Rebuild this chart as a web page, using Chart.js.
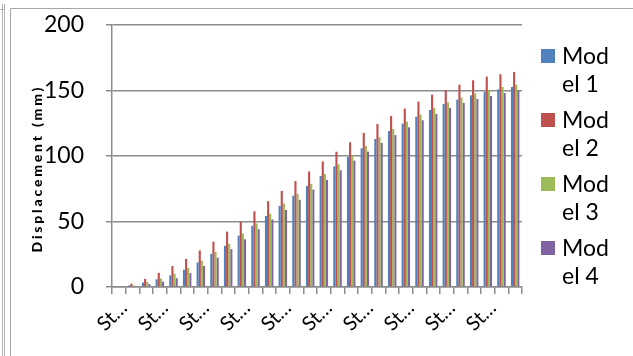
<!DOCTYPE html>
<html>
<head>
<meta charset="utf-8">
<script src="https://cdn.jsdelivr.net/npm/chart.js@4"></script>
<style>
  html, body { margin: 0; padding: 0; background: #fff; }
  #wrap { width: 633px; height: 356px; position: relative; }
</style>
</head>
<body>
<div id="wrap"><canvas id="c" width="633" height="356"></canvas></div>
<script>
// Load steps along the x axis
const categories = [
  'Step 1', 'Step 2', 'Step 3', 'Step 4', 'Step 5', 'Step 6', 'Step 7', 'Step 8', 'Step 9', 'Step 10',
  'Step 11', 'Step 12', 'Step 13', 'Step 14', 'Step 15', 'Step 16', 'Step 17', 'Step 18', 'Step 19', 'Step 20',
  'Step 21', 'Step 22', 'Step 23', 'Step 24', 'Step 25', 'Step 26', 'Step 27', 'Step 28', 'Step 29', 'Step 30'
];

// Displacement (mm) for each model
const model1 = [0, 1.3, 3.4, 5.9, 8.8, 13.2, 18.8, 25.3, 31.5, 39.2, 46.7, 54.2, 61.9, 69.7, 77.2,
                84.7, 92.1, 99.3, 105.9, 113.0, 119.1, 124.7, 130.0, 135.1, 139.7, 143.0, 146.3, 148.9, 150.9, 152.7];
const model2 = [0, 2.6, 6.2, 10.8, 16.0, 21.4, 27.9, 34.6, 42.3, 49.8, 57.8, 65.5, 73.3, 80.8, 88.2,
                95.9, 103.3, 110.5, 117.6, 124.5, 130.6, 136.2, 141.5, 146.8, 150.4, 154.5, 157.8, 160.6, 162.4, 164.2];
const model3 = [0, 1.2, 3.9, 6.5, 10.2, 14.5, 20.1, 26.8, 33.0, 40.8, 48.5, 56.0, 63.7, 71.2, 78.8,
                86.3, 93.7, 100.5, 107.7, 114.3, 120.6, 126.2, 131.6, 136.7, 141.0, 144.6, 147.9, 150.2, 152.7, 154.5];
const model4 = [0, 0.6, 2.3, 4.1, 6.7, 10.6, 16.0, 22.4, 28.9, 36.4, 44.1, 51.6, 58.8, 66.6, 74.3,
                81.7, 89.1, 96.5, 103.3, 110.0, 116.0, 121.9, 127.3, 132.1, 136.7, 140.5, 143.5, 145.8, 148.1, 150.2];

const seriesNames = ['Model 1', 'Model 2', 'Model 3', 'Model 4'];
const yTicks = [0, 50, 100, 150, 200];
const yTitle = 'Displacement (mm)';

const COLORS = ['#4F81BD', '#C0504D', '#9BBB59', '#8064A2'];
const GRID = '#8c8c8c';
const FONT = 'Lato, "Open Sans", sans-serif';

// Category names are too long for the slot, so they are cut short
const shortLabel = (s) => s.slice(0, 2) + '\u2026';

// Outer frame lines around the chart
const framePlugin = {
  id: 'frame',
  beforeDraw(chart) {
    const ctx = chart.ctx;
    ctx.save();
    ctx.strokeStyle = '#b4b4b4';
    ctx.lineWidth = 1;
    ctx.beginPath();
    ctx.moveTo(2.5, 4); ctx.lineTo(2.5, 356);
    ctx.moveTo(4.5, 4); ctx.lineTo(4.5, 356);
    ctx.moveTo(0, 9.5); ctx.lineTo(5, 9.5);
    ctx.stroke();
    ctx.strokeStyle = '#a6a6a6';
    ctx.beginPath();
    ctx.moveTo(10.5, 356); ctx.lineTo(10.5, 8.5); ctx.lineTo(633, 8.5);
    ctx.stroke();
    ctx.restore();
  }
};

// Spaced-out vertical axis title
const axisTitle = {
  id: 'axisTitle',
  afterDraw(chart) {
    const ctx = chart.ctx;
    ctx.save();
    ctx.font = '900 14px ' + FONT;
    ctx.fillStyle = '#000';
    const natural = ctx.measureText(yTitle).width;
    const spacing = Math.max(0, (165 - natural) / (yTitle.length - 1));
    ctx.letterSpacing = spacing.toFixed(2) + 'px';
    ctx.translate(37, 170);
    ctx.rotate(-Math.PI / 2);
    ctx.textAlign = 'left';
    ctx.textBaseline = 'middle';
    const total = ctx.measureText(yTitle).width - spacing;
    ctx.fillText(yTitle, -total / 2, 0);
    ctx.restore();
  }
};

// Narrow legend on the right: each name wraps after three letters
const sideLegend = {
  id: 'sideLegend',
  afterDraw(chart) {
    const ctx = chart.ctx;
    ctx.save();
    ctx.font = '23px ' + FONT;
    ctx.textBaseline = 'alphabetic';
    ctx.textAlign = 'left';
    chart.data.datasets.forEach((ds, i) => {
      const base = 64 + i * 64;
      ctx.fillStyle = ds.backgroundColor;
      ctx.fillRect(541, base - 15, 14, 14);
      ctx.fillStyle = '#000';
      ctx.fillText(ds.label.slice(0, 3), 562, base);
      ctx.fillText(ds.label.slice(3), 562, base + 28);
    });
    ctx.restore();
  }
};

new Chart(document.getElementById('c'), {
  type: 'bar',
  data: {
    labels: categories,
    datasets: [model1, model2, model3, model4].map((d, i) => ({
      label: seriesNames[i],
      data: d,
      backgroundColor: COLORS[i],
      borderWidth: 0,
      categoryPercentage: 0.62,
      barPercentage: 1.0
    }))
  },
  options: {
    responsive: false,
    animation: false,
    devicePixelRatio: 1,
    layout: { padding: { left: 10, top: 25, right: 111, bottom: 0 } },
    plugins: { legend: { display: false }, tooltip: { enabled: false } },
    scales: {
      x: {
        grid: { drawOnChartArea: false, offset: true, tickLength: 7, color: GRID, lineWidth: 1.5 },
        border: { color: GRID, width: 1.5 },
        ticks: {
          autoSkip: false, minRotation: 45, maxRotation: 45, padding: 2, labelOffset: 5,
          color: '#000', font: { family: FONT, size: 20 },
          callback: (v, i) => (i % 3 === 0 ? shortLabel(categories[i]) : '')
        },
        afterFit: (s) => { s.height = 69; }
      },
      y: {
        min: 0, max: 200,
        afterBuildTicks: (s) => { s.ticks = yTicks.map(v => ({ value: v })); },
        grid: { color: GRID, lineWidth: 1.5, tickLength: 6 },
        border: { color: GRID, width: 1.5 },
        ticks: { padding: 22, color: '#000', font: { family: FONT, size: 23 } },
        title: { display: false, text: yTitle },
        afterFit: (s) => { s.width = 102; s.paddingTop = 0; s.paddingBottom = 0; }
      }
    }
  },
  plugins: [framePlugin, axisTitle, sideLegend]
});
</script>
</body>
</html>
